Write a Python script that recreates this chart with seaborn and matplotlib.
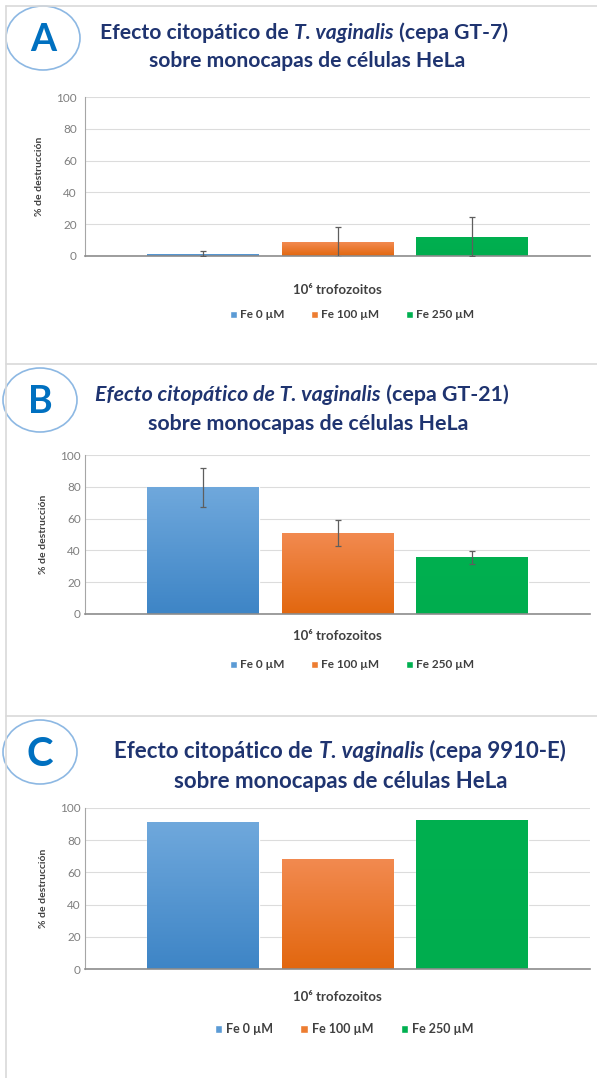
import numpy as np
import pandas as pd
import seaborn as sns
import matplotlib.pyplot as plt
from matplotlib.patches import Ellipse
from matplotlib.lines import Line2D
from matplotlib.colors import LinearSegmentedColormap

# data -----------------------------------------------------------------------
conditions = ['Fe 0 µM', 'Fe 100 µM', 'Fe 250 µM']
category = '10⁶ trofozoitos'

gt7_mean = [1.5, 8.8, 12.1]
gt7_err = [1.8, 9.3, 12.2]

gt21_mean = [79.6, 51.0, 35.6]
gt21_err = [12.0, 8.0, 4.0]

e9910_mean = [91.3, 68.5, 92.7]

panel_letters = ['A', 'B', 'C']
title_parts = [
    [('Efecto citopático de ', 'normal'), ('T. vaginalis', 'italic'), (' (cepa GT-7)', 'normal')],
    [('Efecto citopático de T. vaginalis', 'italic'), (' (cepa GT-21)', 'normal')],
    [('Efecto citopático de ', 'normal'), ('T. vaginalis', 'italic'), (' (cepa 9910-E)', 'normal')],
]
title_line2 = 'sobre monocapas de células HeLa'

# style ----------------------------------------------------------------------
palette = ['#5B9BD5', '#ED7D31', '#00B050']
grad_top = ['#6FA8DC', '#F28A50', '#00B050']
grad_bot = ['#3E85C6', '#E2670F', '#00AD4E']
navy = '#1F3470'
letter_blue = '#0070C0'
dark = '#404040'

sns.set_style('white')
plt.rcParams['font.family'] = ['Lato', 'DejaVu Sans']

W, H = 597, 1078
fig = plt.figure(figsize=(W / 100, H / 100), dpi=100)


def fx(x):
    return x / W


def fy(y):
    return 1 - y / H


ax_box = [(85, 97, 590, 256), (85, 455, 590, 614), (85, 808, 590, 969)]
title_y = [(33, 61), (395, 424), (751, 781)]
title_xc = [(304, 307), (302, 308), (340, 341)]
title_size = [15.2, 15.4, 16.0]
circle_c = [(43, 38), (40, 400), (40, 752)]
letter_size = [27, 27, 29]
label_y = [291, 637, 998]
legend_xc = [352, 352, 344]
legend_y = [315, 665, 1029]
legend_size = [8.5, 8.5, 9]
sep_y = [6, 364, 716]

renderer = fig.canvas.get_renderer()


def mixed_title(parts, xc, y, size):
    texts = [fig.text(0, fy(y), s, style=st, fontsize=size, fontweight='bold',
                      color=navy, va='center', ha='left') for s, st in parts]
    widths = [t.get_window_extent(renderer).width for t in texts]
    x = xc - sum(widths) / 2
    for t, w in zip(texts, widths):
        t.set_x(fx(x))
        x += w


def gradient_bars(ax, n):
    bars = ax.patches[:n]
    for i, bar in enumerate(bars):
        x0, y0 = bar.get_x(), bar.get_y()
        w, h = bar.get_width(), bar.get_height()
        cmap = LinearSegmentedColormap.from_list('g', [grad_bot[i], grad_top[i]])
        grad = np.linspace(0, 1, 64).reshape(-1, 1)
        im = ax.imshow(grad, cmap=cmap, origin='lower', aspect='auto',
                       extent=(x0, x0 + w, y0, y0 + h), zorder=bar.get_zorder() + 0.1)
        im.set_clip_path(bar)
    return bars


panels = [(gt7_mean, gt7_err), (gt21_mean, gt21_err), (e9910_mean, None)]

for k, (means, errs) in enumerate(panels):
    l, t, r, b = ax_box[k]
    ax = fig.add_axes([fx(l), fy(b), fx(r - l), (b - t) / H])

    df = pd.DataFrame({'grupo': [category] * 3, 'condicion': conditions, 'valor': means})
    sns.barplot(data=df, x='grupo', y='valor', hue='condicion', palette=palette,
                hue_order=conditions, width=0.8, gap=0.17, ax=ax, errorbar=None,
                saturation=1, zorder=2)
    bars = gradient_bars(ax, 3)

    if errs is not None:
        xc = [bar.get_x() + bar.get_width() / 2 for bar in bars]
        ax.errorbar(xc, means, yerr=errs, fmt='none', ecolor='#5E5E5E',
                    elinewidth=0.9, capsize=2.5, capthick=0.9, zorder=5)

    ax.set_ylim(0, 100)
    ax.set_xlim(-0.5, 0.5)
    ax.set_yticks([0, 20, 40, 60, 80, 100])
    ax.yaxis.grid(True, color='#DCDCDC', lw=0.8, zorder=0)
    ax.set_axisbelow(True)
    for s in ['top', 'right']:
        ax.spines[s].set_visible(False)
    ax.spines['left'].set_color('#A6A6A6')
    ax.spines['bottom'].set_color('#8C8C8C')
    ax.spines['bottom'].set_linewidth(1.2)
    ax.tick_params(axis='y', labelsize=8.5, labelcolor='#7F7F7F',
                   length=3 if k == 0 else 0, color='#A6A6A6', pad=3)
    ax.tick_params(axis='x', length=0, labelsize=9.5, labelcolor=dark,
                   pad=(label_y[k] - b) * 0.72 - 5)
    for lab in ax.get_xticklabels():
        lab.set_fontweight('bold')
    ax.set_xlabel('')
    ax.set_ylabel('% de destrucción', fontsize=7.5, fontweight='bold', color=dark, labelpad=9)

    handles, labels = ax.get_legend_handles_labels()
    ax.get_legend().remove()
    leg = ax.legend(handles, labels, loc='center',
                    bbox_to_anchor=(fx(legend_xc[k]), fy(legend_y[k])),
                    bbox_transform=fig.transFigure, ncol=3, frameon=False,
                    fontsize=legend_size[k], handlelength=0.6, handleheight=0.6,
                    handletextpad=0.3, columnspacing=2.2)
    for txt in leg.get_texts():
        txt.set_fontweight('bold')
        txt.set_color(dark)

    # panel title
    mixed_title(title_parts[k], title_xc[k][0], title_y[k][0], title_size[k])
    fig.text(fx(title_xc[k][1]), fy(title_y[k][1]), title_line2, fontsize=title_size[k],
             fontweight='bold', color=navy, ha='center', va='center')

    # panel letter in circle
    cx, cy = circle_c[k]
    fig.add_artist(Ellipse((fx(cx), fy(cy)), 74 / W, 64 / H, transform=fig.transFigure,
                           fill=False, edgecolor='#8DB8E3', lw=1.2))
    fig.text(fx(cx), fy(cy + 2), panel_letters[k], fontsize=letter_size[k], fontweight='bold',
             color=letter_blue, ha='center', va='center')

# panel frames
for y in sep_y:
    fig.add_artist(Line2D([fx(6), 1], [fy(y), fy(y)], transform=fig.transFigure,
                          color='#D9D9D9', lw=1.2))
fig.add_artist(Line2D([fx(6), fx(6)], [fy(6), 0], transform=fig.transFigure,
                      color='#D9D9D9', lw=1.2))

fig.savefig('out.png', dpi=100)
